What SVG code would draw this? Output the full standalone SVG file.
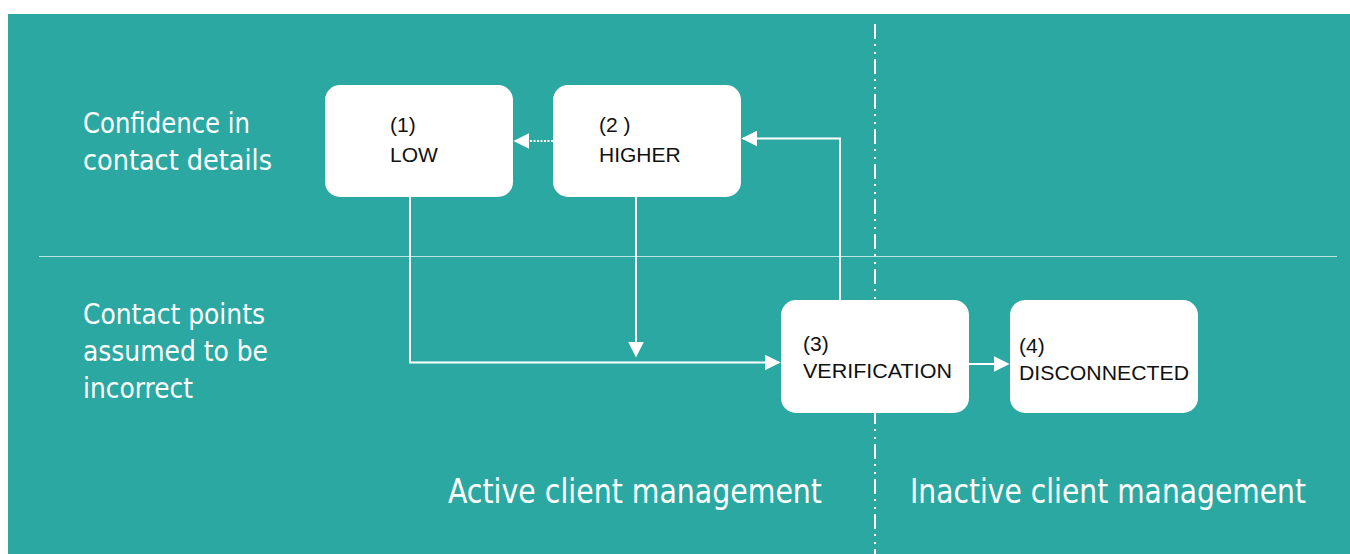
<svg xmlns="http://www.w3.org/2000/svg" width="1350" height="554" viewBox="0 0 1350 554">
<defs>
<style>
.box{fill:#ffffff}
.bt{font-family:"Liberation Sans",Arial,sans-serif;font-size:21px;fill:#111111}
.lab{font-family:"DejaVu Sans Condensed","DejaVu Sans",sans-serif;font-size:28px;fill:#ffffff}
.big{font-family:"DejaVu Sans Condensed","DejaVu Sans",sans-serif;font-size:33px;fill:#ffffff}
.con{fill:none;stroke:#ffffff;stroke-width:2}
</style>
<marker id="ah" viewBox="0 0 10 10" refX="9" refY="5" markerWidth="16" markerHeight="16" markerUnits="userSpaceOnUse" orient="auto">
<path d="M0,0 L10,5 L0,10 z" fill="#ffffff"/>
</marker>
</defs>
<rect x="0" y="0" width="1350" height="554" fill="#ffffff"/>
<rect x="8" y="14" width="1342" height="540" fill="#2ba8a2"/>
<line x1="39" y1="256.5" x2="1337" y2="256.5" stroke="#ffffff" stroke-opacity="0.7" stroke-width="1.2"/>
<line x1="875" y1="24" x2="875" y2="554" stroke="#ffffff" stroke-width="2" stroke-dasharray="15 5 2 6 2 5"/>
<g id="labels">
<text class="lab" x="83" y="133" textLength="167" lengthAdjust="spacingAndGlyphs">Confidence in</text>
<text class="lab" x="83" y="170" textLength="189" lengthAdjust="spacingAndGlyphs">contact details</text>
<text class="lab" x="83" y="324" textLength="182" lengthAdjust="spacingAndGlyphs">Contact points</text>
<text class="lab" x="83" y="361" textLength="185" lengthAdjust="spacingAndGlyphs">assumed to be</text>
<text class="lab" x="83" y="398" textLength="110" lengthAdjust="spacingAndGlyphs">incorrect</text>
<text class="big" x="448" y="503" textLength="374" lengthAdjust="spacingAndGlyphs">Active client management</text>
<text class="big" x="910" y="503" textLength="396" lengthAdjust="spacingAndGlyphs">Inactive client management</text>
</g>
<g id="connectors">
<polyline class="con" points="410,197 410,362.5 779,362.5" marker-end="url(#ah)"/>
<line class="con" x1="636" y1="197" x2="636" y2="356" marker-end="url(#ah)"/>
<polyline class="con" points="840,300 840,138.5 743,138.5" marker-end="url(#ah)"/>
<line class="con" x1="553" y1="141" x2="515" y2="141" stroke-dasharray="2 1.5" marker-end="url(#ah)"/>
<line class="con" x1="969" y1="364" x2="1008" y2="364" marker-end="url(#ah)"/>
</g>
<g id="node-low">
<rect class="box" x="325" y="85" width="188" height="112" rx="15"/>
<text class="bt" x="390" y="132">(1)</text>
<text class="bt" x="390" y="162">LOW</text>
</g>
<g id="node-higher">
<rect class="box" x="553" y="85" width="188" height="112" rx="15"/>
<text class="bt" x="599" y="132">(2 )</text>
<text class="bt" x="599" y="162">HIGHER</text>
</g>
<g id="node-verification">
<rect class="box" x="781" y="300" width="188" height="113" rx="15"/>
<text class="bt" x="803" y="351">(3)</text>
<text class="bt" x="803" y="378" textLength="149" lengthAdjust="spacingAndGlyphs">VERIFICATION</text>
</g>
<g id="node-disconnected">
<rect class="box" x="1010" y="300" width="188" height="113" rx="15"/>
<text class="bt" x="1019" y="353">(4)</text>
<text class="bt" x="1019" y="380" textLength="170" lengthAdjust="spacingAndGlyphs">DISCONNECTED</text>
</g>
</svg>
